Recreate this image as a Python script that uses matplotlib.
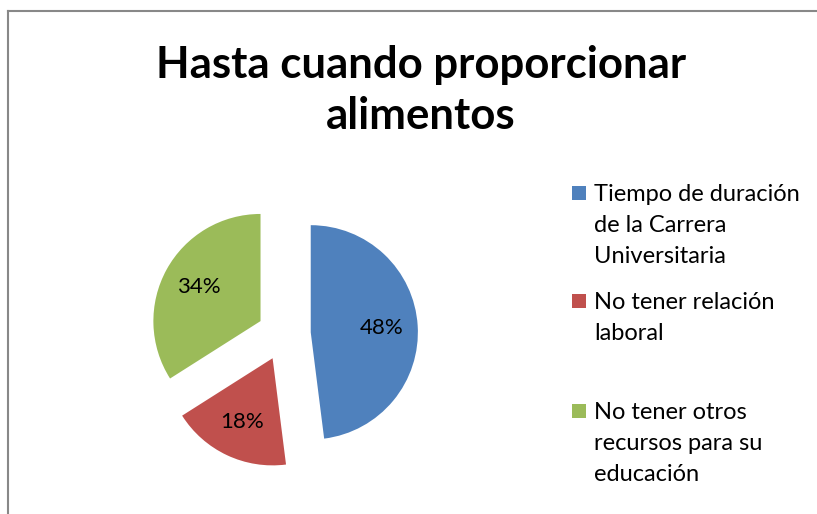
import matplotlib.pyplot as plt
from matplotlib.patches import Rectangle
from matplotlib.lines import Line2D

plt.rcParams['font.family'] = ['Lato', 'DejaVu Sans']

# data
categorias = ['Tiempo de duración\nde la Carrera\nUniversitaria',
              'No tener relación\nlaboral',
              'No tener otros\nrecursos para su\neducación']
porcentajes = [48, 18, 34]
colores = ['#4F81BD', '#C0504D', '#9BBB59']

W, H = 817, 514
fig = plt.figure(figsize=(W / 100, H / 100), dpi=100)

# chart border (gray frame running off the right/bottom edge)
fig.add_artist(Line2D([8 / W, 1], [1 - 10.5 / H, 1 - 10.5 / H], color='#888888', lw=1.5))
fig.add_artist(Line2D([8 / W, 8 / W], [0, 1 - 10.5 / H], color='#888888', lw=1.5))

fig.text(421 / W, 1 - 45 / H, 'Hasta cuando proporcionar\nalimentos', ha='center', va='top',
         fontsize=31.5, fontweight='bold', linespacing=1.33)

# pie axes, square box in pixels
cx, cy, half = 284, 334, 150
ax = fig.add_axes([(cx - half) / W, 1 - (cy + half) / H, 2 * half / W, 2 * half / H])
wedges, texts, autotexts = ax.pie(porcentajes, colors=colores, startangle=90, counterclock=False,
                                  explode=[0.25] * 3, autopct='%d%%', pctdistance=0.66,
                                  radius=1.0, textprops={'fontsize': 16, 'color': 'black'})
ax.set_xlim(-1.4, 1.4)
ax.set_ylim(-1.4, 1.4)

# legend, drawn as figure texts so the marker sits on the first line
legend_y = [184, 292, 402]
for lab, col, y in zip(categorias, colores, legend_y):
    fig.add_artist(Rectangle((572 / W, 1 - (y + 16) / H), 14 / W, 14 / H,
                             facecolor=col, edgecolor='none'))
    fig.text(594 / W, 1 - y / H, lab, ha='left', va='top', fontsize=17, linespacing=1.6)

fig.savefig('out.png', dpi=100)
